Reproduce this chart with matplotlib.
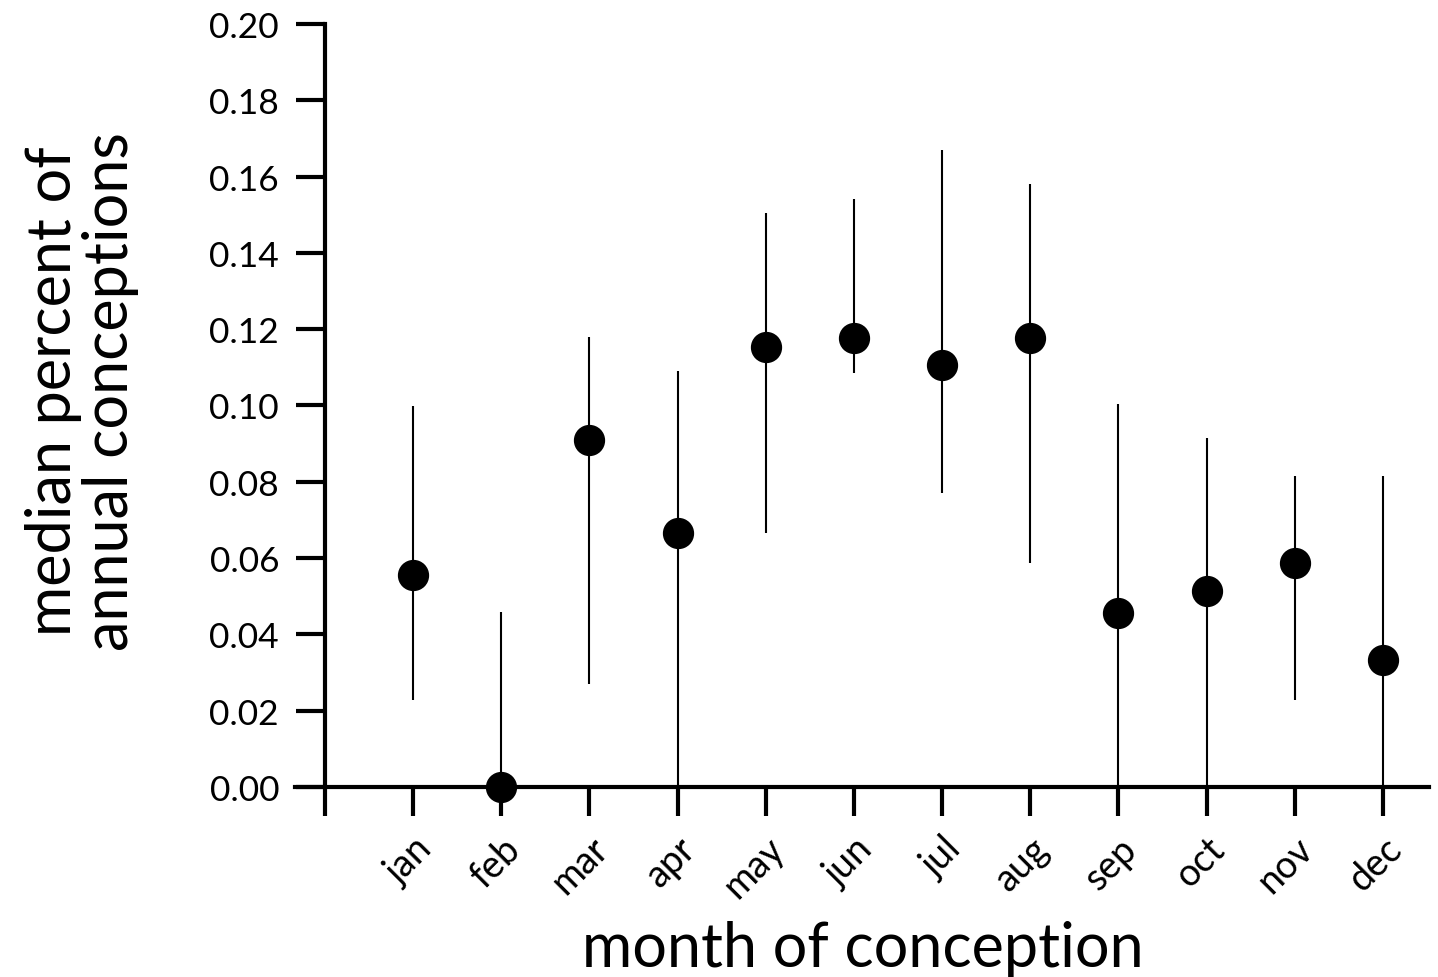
import numpy as np
import matplotlib
matplotlib.use("Agg")
import matplotlib.pyplot as plt

plt.rcParams['font.family'] = ['Lato', 'DejaVu Sans']

# values
months = ['jan', 'feb', 'mar', 'apr', 'may', 'jun', 'jul', 'aug', 'sep', 'oct', 'nov', 'dec']
median = [0.0556, 0.0, 0.091, 0.0666, 0.1153, 0.1177, 0.1106, 0.1177, 0.0456, 0.0514, 0.0587, 0.0333]
upper = [0.0999, 0.0459, 0.118, 0.109, 0.1505, 0.1541, 0.167, 0.158, 0.1004, 0.0915, 0.0815, 0.0815]
lower = [0.0228, 0.0, 0.027, 0.0, 0.0666, 0.1085, 0.077, 0.0587, 0.0, 0.0, 0.0228, 0.0]

x = np.arange(1, len(months) + 1)
med = np.array(median)
yerr = [med - np.array(lower), np.array(upper) - med]

fig = plt.figure(figsize=(14.38, 9.78), dpi=100)
ax = fig.add_axes([0.2051, 0.1943, 0.7885, 0.7802])

ax.errorbar(x, med, yerr=yerr, fmt='o', color='black', ms=21.5, elinewidth=1.5,
            capsize=0, clip_on=False, zorder=3)

ax.set_xlim(-0.34, 12.52)
ax.set_ylim(0, 0.2)
ax.spines['left'].set_position(('data', 0))
ax.spines['top'].set_visible(False)
ax.spines['right'].set_visible(False)
ax.spines['left'].set_linewidth(3)
ax.spines['bottom'].set_linewidth(3)
ax.spines['left'].set_bounds(0, 0.2)

ax.set_yticks(np.arange(0, 0.201, 0.02))
ax.set_yticklabels(['%.2f' % v for v in np.arange(0, 0.201, 0.02)])
ax.set_xticks(np.arange(0, 13))
ax.set_xticklabels([''] + months, rotation=45, ha='right', rotation_mode='anchor')
ax.tick_params(axis='both', length=21, width=3, direction='out')
ax.tick_params(axis='y', pad=12, labelsize=25.5)
ax.tick_params(axis='x', pad=10, labelsize=27)

# axis titles placed on the figure
fig.text(0.600, 0.011, 'month of conception', fontsize=44, ha='center', va='baseline')
fig.text(0.057, 0.6, 'median percent of\nannual conceptions', fontsize=44,
         rotation=90, ha='center', va='center', linespacing=1.0)

fig.savefig('out.png', dpi=100)
